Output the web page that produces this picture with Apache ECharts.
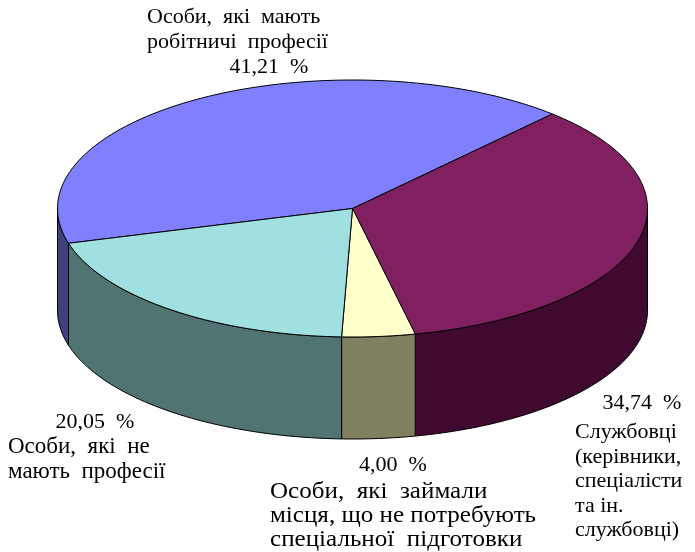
<!DOCTYPE html>
<html>
<head>
<meta charset="utf-8">
<script src="https://cdn.jsdelivr.net/npm/echarts@6/dist/echarts.min.js"></script>
<style>
html, body { margin: 0; padding: 0; background: #fff; }
#chartmain { width: 695px; height: 552px; }
</style>
</head>
<body>
<div id="chartmain"></div>
<script>
var categories = [
	'Особи,  які  мають\nробітничі  професії',
	'Службовці\n(керівники,\nспеціалісти\nта ін.\nслужбовці)',
	'Особи,  які  займали\nмісця, що не потребують\nспеціальної  підготовки',
	'Особи,  які  не\nмають  професії'
];
var values = [41.21, 34.74, 4.00, 20.05];

var topColors = ['#8080ff', '#802060', '#ffffcc', '#a0e0e0'];
var sideColors = ['#40407f', '#400a30', '#807f60', '#507472'];

// геометрія "3D" пирога
var cx = 352.5, cy = 208.5, rx = 295, ry = 128.5, depth = 102;
var startAngle = 164.3;

var total = values.reduce(function (a, b) { return a + b; }, 0);
var starts = [];
var acc = startAngle;
for (var i = 0; i < values.length; i++) {
	starts.push(acc);
	acc += values[i] / total * 360;
}

function pt(deg, dy) {
	var r = deg * Math.PI / 180;
	return [cx + rx * Math.cos(r), cy + ry * Math.sin(r) + (dy || 0)];
}

function arc(a, b, dy) {
	var pts = [];
	var n = Math.max(2, Math.ceil(Math.abs(b - a) / 1.5));
	for (var k = 0; k <= n; k++) {
		pts.push(pt(a + (b - a) * k / n, dy));
	}
	return pts;
}

function fmt(v) {
	return v.toFixed(2).replace('.', ',') + '  %';
}

function renderItem(params, api) {
	var idx = params.dataIndex;
	var a = starts[idx];
	var b = a + api.value(0) / total * 360;
	var children = [];
	// бічні стінки (лише передня половина)
	[[0, 180], [360, 540]].forEach(function (w) {
		var s = Math.max(a, w[0]), e = Math.min(b, w[1]);
		if (e > s) {
			var pts = arc(s, e, 0).concat(arc(e, s, depth));
			children.push({
				type: 'polygon',
				z2: 1,
				shape: { points: pts },
				style: { fill: sideColors[idx], stroke: '#000', lineWidth: 1 }
			});
		}
	});
	// верхня грань
	children.push({
		type: 'polygon',
		z2: 5,
		shape: { points: [[cx, cy]].concat(arc(a, b, 0)) },
		style: { fill: topColors[idx], stroke: '#000', lineWidth: 1 }
	});
	return { type: 'group', children: children };
}

var font = '"Liberation Serif", "Times New Roman", serif';

function txt(x, y, s, align, size, lh, sx) {
	return {
		type: 'text', x: x, y: y, scaleX: sx || 1,
		style: {
			text: s, textAlign: align || 'left', textVerticalAlign: 'top',
			font: (size || 22) + 'px ' + font, fill: '#000', lineHeight: lh || 24.5
		}
	};
}

var option = {
	animation: false,
	graphic: [
		txt(147, 5, categories[0]),
		txt(269, 55, fmt(values[0]), 'center'),
		txt(642, 391, fmt(values[1]), 'center'),
		txt(575, 420, categories[1]),
		txt(393, 453, fmt(values[2]), 'center'),
		txt(270, 480, categories[2], 'left', 23, 24, 1.09),
		txt(95, 410, fmt(values[3]), 'center'),
		txt(8, 435, categories[3], 'left', 23, 24.5)
	],
	series: [{
		type: 'custom',
		coordinateSystem: 'none',
		renderItem: renderItem,
		data: values.map(function (v, i) { return { name: categories[i], value: [v] }; })
	}]
};

var myChart = echarts.init(document.getElementById('chartmain'));
myChart.setOption(option);
</script>
</body>
</html>
